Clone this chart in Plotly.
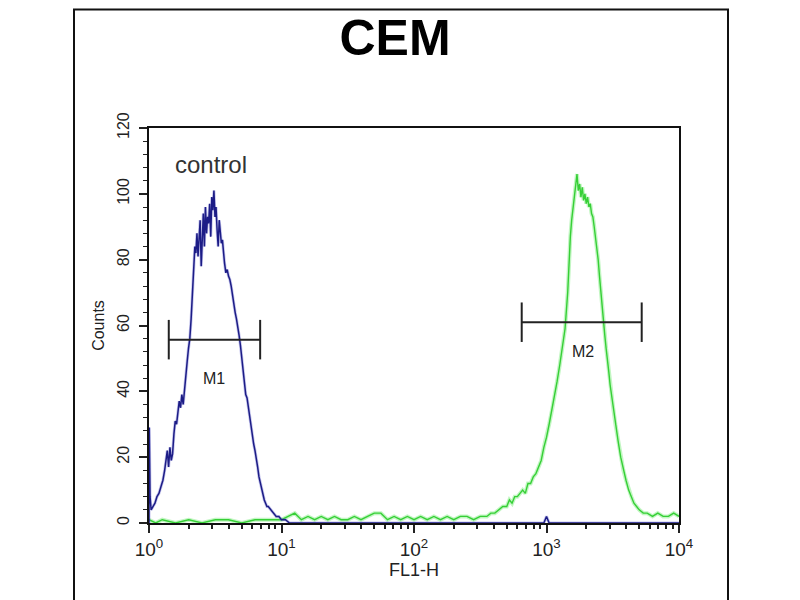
import numpy as np
import plotly.graph_objects as go

# ---- data (x given as log10 of FL1-H) ----
control_log = [0.000, 0.002, 0.008, 0.016, 0.030, 0.045, 0.060, 0.075, 0.090, 0.105,
               0.118, 0.128, 0.138, 0.148, 0.158, 0.168, 0.178, 0.188, 0.198, 0.208,
               0.218, 0.228, 0.238, 0.248, 0.258, 0.268, 0.278, 0.288, 0.298, 0.308,
               0.318, 0.328, 0.338, 0.346, 0.354, 0.362, 0.370, 0.378, 0.386, 0.394,
               0.402, 0.410, 0.418, 0.426, 0.434, 0.442, 0.450, 0.458, 0.466, 0.474,
               0.482, 0.490, 0.498, 0.506, 0.514, 0.522, 0.530, 0.538, 0.546, 0.554,
               0.562, 0.570, 0.580, 0.590, 0.600, 0.610, 0.620, 0.630, 0.640, 0.650,
               0.660, 0.670, 0.680, 0.690, 0.700, 0.710, 0.720, 0.730, 0.740, 0.750,
               0.760, 0.770, 0.780, 0.790, 0.800, 0.810, 0.820, 0.830, 0.840, 0.850,
               0.860, 0.870, 0.880, 0.890, 0.900, 0.920, 0.940, 0.960, 0.980, 1.000,
               1.030, 1.060, 1.100, 1.500, 2.000, 2.500, 2.980, 3.000, 3.020, 3.500, 4.000]
control_counts = [0, 29, 8, 4, 5, 6, 8, 9, 11, 13,
                  16, 20, 22, 17, 23, 19, 21, 27, 31, 30,
                  34, 37, 35, 39, 36, 41, 46, 49, 53, 56,
                  62, 69, 76, 84, 82, 88, 81, 86, 92, 78,
                  90, 94, 84, 96, 88, 93, 91, 97, 87, 99,
                  95, 101, 93, 96, 89, 84, 92, 89, 85, 86,
                  81, 79, 76, 77, 75, 74, 72, 69, 67, 64,
                  62, 60, 57, 54, 50, 45, 41, 39, 38, 35,
                  32, 30, 27, 24, 22, 20, 17, 14, 12, 10,
                  9, 7, 6, 5, 5, 4, 3, 2, 2, 1,
                  1, 0, 0, 0, 0, 0, 0, 2, 0, 0, 0]

sample_log = [0.00, 0.05, 0.10, 0.20, 0.30, 0.40, 0.50, 0.60, 0.70, 0.80,
              0.90, 1.00, 1.05, 1.10, 1.15, 1.20, 1.25, 1.30, 1.35, 1.40,
              1.45, 1.50, 1.55, 1.60, 1.65, 1.70, 1.75, 1.80, 1.85, 1.90,
              1.95, 2.00, 2.05, 2.10, 2.15, 2.20, 2.25, 2.30, 2.35, 2.40,
              2.45, 2.50, 2.55, 2.58, 2.61, 2.64, 2.67, 2.70, 2.72, 2.74,
              2.76, 2.78, 2.80, 2.82, 2.84, 2.86, 2.88, 2.90, 2.92, 2.94,
              2.96, 2.98, 3.00, 3.02, 3.04, 3.06, 3.08, 3.10, 3.12, 3.14,
              3.16, 3.17, 3.18, 3.19, 3.20, 3.21, 3.22, 3.23, 3.24, 3.25,
              3.26, 3.27, 3.28, 3.29, 3.30, 3.31, 3.32, 3.33, 3.34, 3.35,
              3.36, 3.37, 3.38, 3.39, 3.40, 3.41, 3.42, 3.43, 3.44, 3.45,
              3.46, 3.47, 3.48, 3.49, 3.50, 3.52, 3.54, 3.56, 3.58, 3.60,
              3.62, 3.64, 3.66, 3.68, 3.70, 3.73, 3.76, 3.80, 3.84, 3.88,
              3.92, 3.96, 4.00]
sample_counts = [1, 0, 1, 0, 1, 0, 1, 1, 0, 1,
                 1, 1, 2, 3, 1, 2, 1, 2, 1, 2,
                 1, 1, 2, 1, 2, 3, 3, 1, 2, 1,
                 2, 1, 2, 1, 2, 1, 2, 1, 2, 2,
                 1, 2, 2, 3, 3, 4, 5, 5, 7, 6,
                 8, 8, 9, 10, 9, 12, 12, 14, 15, 17,
                 19, 23, 26, 30, 34, 38, 43, 48, 53, 59,
                 70, 80, 87, 92, 96, 99, 104, 106, 101, 103,
                 99, 102, 98, 100, 97, 99, 96, 97, 94, 93,
                 90, 87, 84, 80, 75, 70, 65, 61, 57, 53,
                 50, 46, 42, 39, 36, 30, 25, 20, 16, 13,
                 10, 8, 6, 5, 4, 3, 3, 2, 3, 2,
                 2, 3, 2]

gate_names = ["M1", "M2"]
gate_lo = [1.41, 650]
gate_hi = [6.9, 5230]
gate_y = [55.7, 61.0]
gate_cap = [6.0, 6.0]
gate_label_x = [3.1, 1900]
gate_label_y = [44, 52]

x_tick_vals = [1, 10, 100, 1000, 10000]
x_tick_text = ["10<sup>0</sup>", "10<sup>1</sup>", "10<sup>2</sup>", "10<sup>3</sup>", "10<sup>4</sup>"]
y_tick_vals = [0, 20, 40, 60, 80, 100, 120]

FONT = "Liberation Sans, Arial, sans-serif"
NARROW = "Liberation Sans Narrow, Liberation Sans, Arial, sans-serif"
BLUE = "#1c1c86"
GREEN = "#36cf36"

# plot-area margins (figure coordinates)
L, R, T, B = 141, 129, 120, 85
PW, PH = 800 - L - R, 600 - T - B

fig = go.Figure()

sx = 10 ** np.array(sample_log)
cx = 10 ** np.array(control_log)

fig.add_trace(go.Scatter(x=sx, y=sample_counts, mode="lines",
                         line=dict(color="rgba(120,235,120,0.45)", width=4), hoverinfo="skip"))
fig.add_trace(go.Scatter(x=sx, y=sample_counts, mode="lines",
                         line=dict(color=GREEN, width=1.4)))
fig.add_trace(go.Scatter(x=cx, y=control_counts, mode="lines",
                         line=dict(color="rgba(90,90,200,0.35)", width=3), hoverinfo="skip"))
fig.add_trace(go.Scatter(x=cx, y=control_counts, mode="lines",
                         line=dict(color=BLUE, width=1.5)))

for name, lo, hi, yv, cap, lx, ly in zip(gate_names, gate_lo, gate_hi, gate_y, gate_cap,
                                         gate_label_x, gate_label_y):
    fig.add_trace(go.Scatter(x=[lo, hi], y=[yv, yv], mode="lines",
                             line=dict(color="#222222", width=2)))
    fig.add_trace(go.Scatter(x=[lo, lo], y=[yv - cap, yv + cap], mode="lines",
                             line=dict(color="#222222", width=2)))
    fig.add_trace(go.Scatter(x=[hi, hi], y=[yv - cap, yv + cap], mode="lines",
                             line=dict(color="#222222", width=2)))
    fig.add_annotation(x=np.log10(lx), y=ly, text=name, showarrow=False,
                       font=dict(family=NARROW, size=16, color="#222222"))

fig.add_annotation(x=np.log10(2.95), y=109, text="control", showarrow=False,
                   font=dict(family=FONT, size=24, color="#333333"))

# outer frame (top edge at figure y = 1.5 px, bottom beyond figure)
fig.add_shape(type="rect", xref="paper", yref="paper",
              x0=(66 - L) / PW, x1=(720 - L) / PW,
              y0=(600 - B - 610) / PH, y1=(600 - B - 1.5) / PH,
              line=dict(color="#111111", width=2), layer="below")

fig.update_layout(
    width=800, height=600,
    margin=dict(l=L, r=R, t=T, b=B),
    paper_bgcolor="white", plot_bgcolor="white",
    showlegend=False,
    title=dict(text="<b>CEM</b>", x=387 / 800, xanchor="center", y=1 - 29 / 600, yanchor="middle",
               font=dict(family=FONT, size=50, color="black")),
    font=dict(family=FONT, color="#222222"),
)

fig.update_xaxes(type="log", range=[0, 4], tickvals=x_tick_vals, ticktext=x_tick_text,
                 ticks="outside", ticklen=8, tickwidth=1.5, tickcolor="#222",
                 minor=dict(tickvals=[m * d for d in [1, 10, 100, 1000] for m in range(2, 10)],
                            ticks="outside", ticklen=4, tickwidth=1.5, tickcolor="#222"),
                 showline=True, linecolor="#111", linewidth=2, mirror=True,
                 showgrid=False, zeroline=False,
                 tickfont=dict(size=19, family=NARROW, color="#222"),
                 title=dict(text="FL1-H", font=dict(size=18, family=NARROW, color="#222"), standoff=2))

fig.update_yaxes(range=[0, 120], tickvals=y_tick_vals, tickangle=-90,
                 ticks="outside", ticklen=8, tickwidth=1.5, tickcolor="#222",
                 minor=dict(dtick=4, ticks="outside", ticklen=4, tickwidth=1, tickcolor="#222"),
                 showline=True, linecolor="#111", linewidth=2, mirror=True,
                 showgrid=False, zeroline=False,
                 ticklabelstandoff=4,
                 tickfont=dict(size=16, family=FONT, color="#222"),
                 title=dict(text="Counts", font=dict(size=16, family=FONT, color="#222"), standoff=6))

fig.write_html("out.html")
